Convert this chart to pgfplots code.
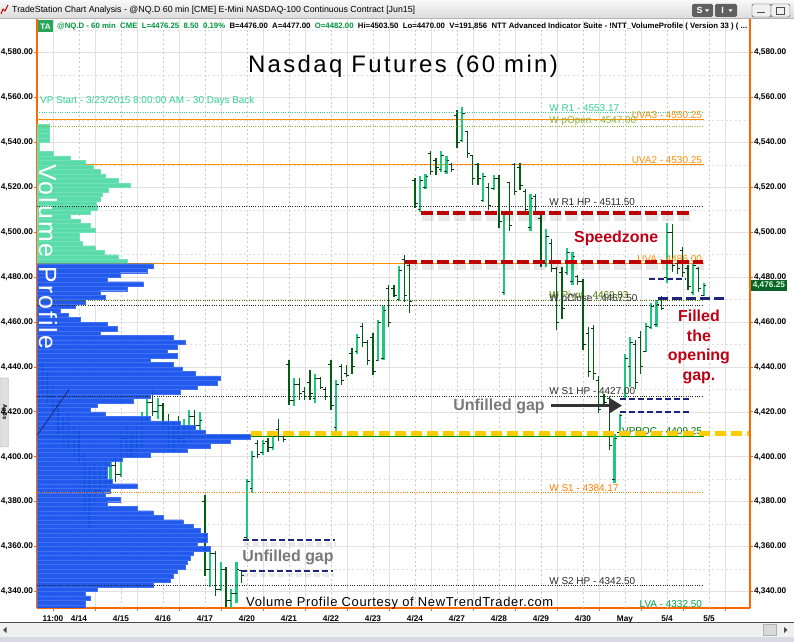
\documentclass[border=0pt]{standalone}
\usepackage{fontspec}
\setmainfont{Liberation Sans}
\newfontfamily\titlefont[LetterSpace=10]{Liberation Sans}
\newfontfamily\vpfont[LetterSpace=8]{Liberation Sans}
\newfontfamily\footfont[LetterSpace=5]{Liberation Sans}
\usepackage{pgfplots}
\usepackage{pgfplotstable}
\pgfplotsset{compat=1.18}
\usetikzlibrary{arrows.meta}

\definecolor{mint}{RGB}{32,200,125}
\definecolor{dkgreen}{RGB}{0,95,20}
\definecolor{tickc}{RGB}{25,45,25}
\definecolor{vpblue}{RGB}{18,78,236}
\definecolor{vpcyan}{RGB}{80,218,165}
\definecolor{frameor}{RGB}{255,102,0}
\definecolor{lvlor}{RGB}{255,140,0}
\definecolor{szred}{RGB}{190,0,0}
\definecolor{navy}{RGB}{30,35,125}
\definecolor{gold}{RGB}{255,204,0}
\definecolor{olive}{RGB}{140,180,50}
\definecolor{pivgreen}{RGB}{70,120,0}
\definecolor{r1mint}{RGB}{50,210,150}
\definecolor{lvagreen}{RGB}{0,160,70}
\definecolor{gridc}{RGB}{226,226,226}
\definecolor{boxgreen}{RGB}{10,100,40}
\definecolor{stgreen}{RGB}{0,150,60}
\definecolor{txtred}{RGB}{190,0,20}
\definecolor{labdark}{RGB}{45,45,45}

% 60-min bars: x = trading-day index (4/14 = 1, 4/20 = 5, ...), open high low close
\pgfplotstableread{
x o h l c
0.125 4440 4442 4428 4430
0.250 4430 4438 4424 4427
0.375 4427 4432 4420 4423
0.500 4423 4425 4410 4412
0.625 4412 4418 4405 4415
0.750 4415 4420 4403 4406
0.875 4406 4414 4400 4410
1.000 4410 4412 4398 4400
1.125 4400 4402 4375 4380
1.250 4380 4395 4368 4390
1.375 4390 4398 4380 4385
1.500 4385 4396 4384 4394
1.625 4394 4398 4386 4389
1.750 4389 4398 4388 4396
1.875 4396 4400 4389 4392
2.000 4392 4412 4391 4408
2.125 4408 4414 4400 4403
2.250 4403 4412 4400 4410
2.375 4410 4413 4402 4405
2.500 4405 4420 4404 4418
2.625 4418 4428 4415 4424
2.750 4424 4430 4418 4420
2.875 4420 4426 4417 4423
3.000 4423 4424 4413 4415
3.125 4415 4419 4403 4406
3.250 4406 4416 4402 4412
3.375 4412 4418 4406 4408
3.500 4408 4417 4405 4414
3.625 4414 4421 4410 4418
3.750 4418 4421 4412 4414
3.875 4414 4420 4410 4416
4.000 4380 4383 4347 4350
4.125 4350 4359 4342 4357
4.250 4357 4358 4338 4341
4.375 4341 4353 4340 4350
4.500 4350 4351 4333 4336
4.625 4336 4341 4332 4339
4.750 4339 4353 4335 4350
4.875 4349.5 4349.5 4344 4347
5.000 4364 4390 4363.5 4389
5.125 4386 4402.5 4384 4400
5.250 4406 4407.5 4399.5 4401
5.375 4402 4407.5 4401 4406
5.500 4407 4408.5 4402 4404
5.625 4404 4410 4403 4409
5.750 4412 4417 4407 4409
5.875 4409 4410 4406.5 4407.5
6.000 4441 4443 4423 4425
6.125 4425 4435 4422.5 4432
6.250 4432 4435 4425.5 4428
6.375 4429 4431 4425.5 4427
6.500 4433 4438.5 4425.5 4428
6.625 4426 4437 4424 4435
6.750 4435 4435.5 4430 4431
6.875 4430 4431 4425.5 4427
7.000 4441 4443 4421 4423
7.125 4413 4434 4410.5 4432
7.250 4440 4441.5 4432 4434
7.375 4437 4441 4435.5 4436
7.500 4446 4448.5 4437 4440
7.625 4447 4454.5 4446 4453
7.750 4458 4459.5 4449 4451
7.875 4451 4452 4441 4443
8.000 4453 4455 4436.5 4438
8.125 4443 4461 4442.5 4460
8.250 4444 4467 4443 4465
8.375 4475 4476.5 4458 4460
8.500 4475 4476.5 4471 4472
8.625 4470 4485 4469.5 4483
8.750 4488 4490 4469 4472
8.875 4485 4486 4464 4469
9.000 4523 4524 4511 4513
9.125 4510 4525 4509 4523
9.250 4520 4526 4519.5 4525
9.375 4535 4536 4525.5 4527
9.500 4532 4533 4525.5 4529
9.625 4528 4536 4527 4534
9.750 4527 4534 4526 4532
9.875 4530 4531 4527 4528
10.000 4552 4554.5 4537.5 4540
10.125 4541 4556 4540 4553
10.250 4545 4545 4533 4535
10.375 4534 4534.5 4521 4524
10.500 4530 4531 4521 4524
10.625 4514 4526.5 4513.5 4525
10.750 4520 4522 4510 4512
10.875 4519.5 4525.5 4519 4524
11.000 4524 4525.5 4502 4505
11.125 4473 4509 4472 4508
11.250 4522 4522.5 4500.5 4503
11.375 4530 4531 4516.5 4518
11.500 4529 4531 4519 4521
11.625 4518 4519.5 4508.5 4510
11.750 4502 4517 4500.5 4515
11.875 4516 4517 4507.5 4509
12.000 4506 4508.5 4484.5 4487
12.125 4486 4501.5 4484.5 4498
12.250 4495 4497 4482.5 4484
12.375 4484 4484.5 4456.5 4460
12.500 4482 4484.5 4461.5 4466
12.625 4482 4493 4481 4491
12.750 4478 4491 4476.5 4489
12.875 4480.5 4481 4476.5 4478
13.000 4478 4479 4447.5 4450
13.125 4455 4458 4435.5 4438
13.250 4457 4458.5 4434 4437
13.375 4434 4436 4419.5 4421
13.500 4427 4428 4422.5 4424
13.625 4426 4427 4403 4405
13.750 4390 4410 4388.5 4408
13.875 4411 4419 4409 4418.5
14.000 4426 4446 4425.5 4444
14.125 4440 4453.5 4431 4451
14.250 4450 4452 4430 4433
14.375 4453 4456 4437 4440
14.500 4447 4459.5 4446.5 4458
14.625 4457.5 4468.5 4457 4467
14.750 4459 4470 4458 4468
14.875 4471 4471.5 4465.5 4466
15.000 4480 4504 4477.5 4500
15.125 4500 4503.5 4482.5 4485
15.250 4486 4487.5 4481.5 4484
15.375 4492 4493.5 4480 4482
15.500 4484 4485.5 4474.5 4476
15.625 4473 4486 4472 4485
15.750 4484 4484.5 4473.5 4475
15.875 4472 4477.5 4471.5 4476.25
}\bars

% volume profile: price level (2-pt bins) and bar length (px of 42 per day)
\pgfplotstableread{
p len
4547 12
4545 12
4543 12
4541 12
4539 2
4537 2
4535 16
4533 33
4531 48
4529 56
4527 63
4525 68
4523 81
4521 93
4519 71
4517 65
4515 63
4513 59
4511 60
4509 53
4507 33
4505 43
4503 53
4501 58
4499 42
4497 42
4495 45
4493 58
4491 67
4489 81
4487 90
}\profhi

\pgfplotstableread{
p len
4485 116
4483 110
4481 83
4479 70
4477 106
4475 90
4473 63
4471 68
4469 48
4467 38
4465 23
4463 31
4461 43
4459 70
4457 80
4455 63
4453 136
4451 148
4449 140
4447 130
4445 140
4443 113
4441 136
4439 145
4437 158
4435 183
4433 180
4431 160
4429 143
4427 113
4425 96
4423 60
4421 53
4419 68
4417 113
4415 143
4413 158
4411 168
4409 213
4407 193
4405 173
4403 150
4401 113
4399 85
4397 73
4395 70
4393 70
4391 70
4389 75
4387 100
4385 73
4383 68
4381 83
4379 70
4377 100
4375 116
4373 126
4371 146
4369 156
4367 163
4365 170
4363 170
4361 160
4359 173
4357 156
4355 153
4353 150
4351 148
4349 140
4347 136
4345 133
4343 116
4341 60
4339 48
4337 53
4335 48
4333 48
}\proflo

\pgfplotsset{
  vpline/.style={line width=1bp, forget plot},
  dotl/.style={line width=1bp, dash pattern=on 1bp off 1.3bp, forget plot},
}
\tikzset{lab/.style={font=\fontsize{10}{12}\selectfont, inner sep=1bp}}

\begin{document}
\begin{tikzpicture}
\fill[white] (0,0) rectangle (794bp,642bp);

% window chrome (title bar, bottom scroll bar)
\begin{scope}[x=1bp,y=-1bp,yshift=642bp]
  \shade[top color=gray!5, bottom color=gray!28] (0,0) rectangle (794,18.5);
  \draw[gray!60] (0,18.5) -- (794,18.5);
  \draw[red!80!black, line width=1bp] (1,14) -- (3,9) -- (5,11) -- (8,5);
  \node[anchor=west, inner sep=0] at (12,10)
    {\resizebox{403bp}{!}{\fontsize{9}{10}\selectfont TradeStation Chart Analysis - @NQ.D 60 min [CME] E-Mini NASDAQ-100 Continuous Contract [Jun15]}};
  \fill[rounded corners=1.5bp, gray!75!black] (692,4) rectangle (713,17);
  \node[text=white, font=\bfseries\fontsize{9}{10}\selectfont] at (699.5,10.8) {S};
  \fill[white] (705,9.5) -- (709,9.5) -- (707,12) -- cycle;
  \fill[rounded corners=1.5bp, gray!75!black] (715,4) rectangle (737,17);
  \node[text=white, font=\bfseries\fontsize{9}{10}\selectfont] at (722.5,10.8) {I};
  \fill[white] (728.5,9.5) -- (732.5,9.5) -- (730.5,12) -- cycle;
  \draw[rounded corners=1.5bp, fill=gray!12, draw=gray!55!black] (752,4) rectangle (771,17);
  \draw[line width=1.2bp, black!70] (757,12.5) -- (765,12.5);
  \draw[rounded corners=1.5bp, fill=gray!12, draw=gray!55!black] (771,4) rectangle (790,17);
  \draw[line width=0.8bp, black!70] (776.5,7.5) rectangle (784.5,14);
  % bottom
  \draw[black!70, line width=0.8bp] (0,622.5) -- (794,622.5);
  \fill[gray!12] (0,623) rectangle (794,637);
  \fill[black!70] (3,630) -- (6.5,627) -- (6.5,633) -- cycle;
  \draw[fill=gray!30, draw=gray!60] (763,624.5) rectangle (776,635.5);
  \fill[black!70] (784,627) -- (787.5,630) -- (784,633) -- cycle;
  \fill[blue!20!gray!25] (0,637) rectangle (794,642);
  % left tab
  \draw[fill=gray!25, draw=gray!60, rounded corners=1bp] (0,378) rectangle (8.5,447);
  \node[rotate=-90, font=\bfseries\fontsize{6}{7}\selectfont] at (4.2,412) {Apps};
\end{scope}

\begin{axis}[
  at={(37bp,34bp)}, anchor=south west,
  width=713bp, height=589bp, scale only axis,
  xmin=0, xmax=16.976, ymin=4332.65, ymax=4595,
  axis x line*=bottom, axis y line*=left,
  axis line style={frameor, line width=1.2bp},
  clip mode=individual,
  /pgf/number format/assume math mode=true,
  xtick={0.38,1.38,2.38,3.38,4.38,5.38,6.38,7.38,8.38,9.38,10.38,11.38,12.38,13.38,14.38,15.38,16.38},
  xticklabels={11:00,,,,,,,,,,,,,,,,},
  extra x ticks={1,2,3,4,5,6,7,8,9,10,11,12,13,14,15,16},
  extra x tick labels={4/14,4/15,4/16,4/17,4/20,4/21,4/22,4/23,4/24,4/27,4/28,4/29,4/30,May,5/4,5/5},
  extra x tick style={major tick style={draw=none}, grid=major,
     major grid style={gray!40, dash pattern=on 2bp off 2.5bp, line width=0.6bp}},
  xmajorgrids, ymajorgrids, yminorgrids,
  major grid style={gridc, line width=0.7bp},
  minor grid style={gray!25, dash pattern=on 2bp off 2.5bp, line width=0.6bp},
  ytick={4340,4360,4380,4400,4420,4440,4460,4480,4500,4520,4540,4560,4580},
  minor ytick={4350,4370,4390,4410,4430,4450,4470,4490,4510,4530,4550,4570,4590},
  tick align=outside, major tick length=3bp, minor tick length=0pt,
  tick style={frameor, line width=0.8bp},
  tick label style={font=\bfseries\fontsize{8.3}{10}\selectfont, text=black},
  yticklabel style={/pgf/number format/.cd, fixed, fixed zerofill, precision=2, 1000 sep={,}, /tikz/.cd, inner sep=0.8bp},
  xticklabel style={yshift=-1bp},
]
% value-area lines (drawn under the profile)
\addplot[vpline, lvlor] coordinates {(0,4550.25) (15.88,4550.25)};
\addplot[vpline, lvlor] coordinates {(0,4530.25) (15.88,4530.25)};
\addplot[vpline, lvlor] coordinates {(0,4486) (15.88,4486)};
\addplot[vpline, green!55!black] coordinates {(0,4409.25) (15.88,4409.25)};
\addplot[vpline, lvagreen] coordinates {(0,4332.5) (15.88,4332.5)};

% price bars: up bars mint thick, down bars dark thin
\addplot[draw=none, mark=none, forget plot,
  restrict expr to domain={\thisrow{c}-\thisrow{o}}{0:1000},
  error bars/.cd, y dir=both, y explicit, error mark=none,
  error bar style={draw=mint, solid, line width=2.1bp}]
  table[x=x, y expr={(\thisrow{h}+\thisrow{l})/2}, y error expr={(\thisrow{h}-\thisrow{l})/2}] {\bars};
\addplot[draw=none, mark=none, forget plot,
  restrict expr to domain={\thisrow{c}-\thisrow{o}}{-1000:0},
  error bars/.cd, y dir=both, y explicit, error mark=none,
  error bar style={draw=dkgreen, solid, line width=1.2bp}]
  table[x=x, y expr={(\thisrow{h}+\thisrow{l})/2}, y error expr={(\thisrow{h}-\thisrow{l})/2}] {\bars};
\addplot[draw=none, mark=none, forget plot,
  error bars/.cd, x dir=minus, x fixed=0.065, error mark=none,
  error bar style={draw=tickc, solid, line width=1bp}]
  table[x=x, y=o] {\bars};
\addplot[draw=none, mark=none, forget plot,
  error bars/.cd, x dir=plus, x fixed=0.065, error mark=none,
  error bar style={draw=tickc, solid, line width=1bp}]
  table[x=x, y=c] {\bars};

% volume profile (2-point bins = 4.49 px tall)
\addplot[xbar, bar width=4.49bp, bar shift=0pt, fill=vpcyan, fill opacity=0.94,
  draw=vpcyan!80!white, line width=0.3bp, forget plot]
  table[x expr={\thisrow{len}/42}, y=p] {\profhi};
\addplot[xbar, bar width=4.49bp, bar shift=0pt, fill=vpblue, fill opacity=0.93,
  draw=vpblue!80!white, line width=0.3bp, forget plot]
  table[x expr={\thisrow{len}/42}, y=p] {\proflo};
\addplot[navy, line width=0.8bp, forget plot] coordinates {(0.007,4409.7) (0.769,4430.1)};

% pivot lines (dotted, over the profile)
\addplot[dotl, r1mint] coordinates {(0,4553.17) (15.88,4553.17)};
\addplot[dotl, olive] coordinates {(0,4547.0) (15.88,4547.0)};
\addplot[dotl, black!85] coordinates {(0,4511.5) (15.88,4511.5)};
\addplot[dotl, pivgreen] coordinates {(0,4469.83) (15.88,4469.83)};
\addplot[dotl, black!85] coordinates {(0,4467.5) (15.88,4467.5)};
\addplot[dotl, black!85] coordinates {(0,4427.0) (15.88,4427.0)};
\addplot[dotl, lvlor!90!red] coordinates {(0,4384.17) (15.88,4384.17)};
\addplot[dotl, black!85] coordinates {(0,4342.5) (15.88,4342.5)};

% level labels
\node[lab, anchor=south west, text=r1mint] at (axis cs:12.17,4553.17) {W R1 - 4553.17};
\node[lab, anchor=south east, text=lvlor] at (axis cs:15.86,4550.25) {UVA3 - 4550.25};
\node[lab, anchor=south west, text=olive] at (axis cs:12.17,4547.0) {W pOpen - 4547.00};
\node[lab, anchor=south east, text=lvlor] at (axis cs:15.86,4530.25) {UVA2 - 4530.25};
\node[lab, anchor=south west, text=labdark] at (axis cs:12.17,4511.5) {W R1 HP - 4511.50};
\node[lab, anchor=south east, text=lvlor] at (axis cs:15.86,4486) {UVA - 4486.00};
\node[lab, anchor=south west, text=pivgreen] at (axis cs:12.17,4469.83) {W Pivot - 4469.83};
\node[lab, anchor=south west, text=labdark] at (axis cs:12.17,4467.5) {W pClose - 4467.50};
\node[lab, anchor=south west, text=labdark] at (axis cs:12.17,4427.0) {W S1 HP - 4427.00};
\node[lab, anchor=south east, text=green!45!black] at (axis cs:15.86,4409.25) {VPPOC - 4409.25};
\node[lab, anchor=south west, text=lvlor!90!red] at (axis cs:12.17,4384.17) {W S1 - 4384.17};
\node[lab, anchor=south west, text=labdark] at (axis cs:12.17,4342.5) {W S2 HP - 4342.50};
\node[lab, anchor=south east, text=lvagreen] at (axis cs:15.86,4332.5) {LVA - 4332.50};

% speedzone (red dashed) with soft shadows
\addplot[black, opacity=0.09, line width=6bp, dash pattern=on 12bp off 4bp, forget plot] coordinates {(9.17,4506.4) (15.58,4506.4)};
\addplot[black, opacity=0.09, line width=6bp, dash pattern=on 12bp off 4bp, forget plot] coordinates {(8.79,4484.6) (15.89,4484.6)};
\addplot[szred, line width=4.3bp, dash pattern=on 12bp off 4bp, forget plot] coordinates {(9.14,4508.7) (15.55,4508.7)};
\addplot[szred, line width=4.3bp, dash pattern=on 12bp off 4bp, forget plot] coordinates {(8.76,4486.9) (15.86,4486.9)};

% gap lines (navy dashed) with shadows
\addplot[black, opacity=0.08, line width=4bp, dash pattern=on 6bp off 3bp, forget plot] coordinates {(4.92,4361.2) (7.12,4361.2)};
\addplot[black, opacity=0.08, line width=4bp, dash pattern=on 6bp off 3bp, forget plot] coordinates {(4.88,4347.4) (7.07,4347.4)};
\addplot[navy, line width=2bp, dash pattern=on 6bp off 3bp, forget plot] coordinates {(4.90,4362.9) (7.10,4362.9)};
\addplot[navy, line width=2bp, dash pattern=on 6bp off 3bp, forget plot] coordinates {(4.86,4349.1) (7.05,4349.1)};
\addplot[navy, line width=2bp, dash pattern=on 6bp off 3bp, forget plot] coordinates {(13.88,4425.7) (15.55,4425.7)};
\addplot[navy, line width=2bp, dash pattern=on 6bp off 3bp, forget plot] coordinates {(13.88,4420.1) (15.55,4420.1)};
\addplot[navy, line width=2bp, dash pattern=on 6bp off 3bp, forget plot] coordinates {(14.57,4479.1) (15.45,4479.1)};
\addplot[navy, line width=3.5bp, dash pattern=on 10bp off 4bp, forget plot] coordinates {(14.79,4470.6) (16.45,4470.6)};

% VPPOC highlight
\addplot[gold, line width=4.5bp, dash pattern=on 11bp off 5bp, forget plot] coordinates {(5.10,4410.3) (16.976,4410.3)};

% arrow
\addplot[black!80, line width=3.5bp, -{Triangle[length=13bp,width=15bp]}, forget plot] coordinates {(12.24,4422.8) (13.93,4422.8)};

% texts
\node[anchor=base, font=\titlefont\fontsize{24}{28}\selectfont] at (axis cs:8.714,4571.0) {Nasdaq Futures (60 min)};
\node[anchor=west, inner sep=0, text=r1mint, font=\fontsize{10}{12}\selectfont] at (axis cs:0.07,4558.5) {VP Start - 3/23/2015 8:00:00 AM - 30 Days Back};
\node[rotate=-90, text=white, font=\vpfont\fontsize{25}{30}\selectfont] at (axis cs:0.262,4489) {Volume Profile};
\node[anchor=base west, inner sep=0, font=\footfont\fontsize{13}{15}\selectfont] at (axis cs:4.976,4333.5) {Volume Profile Courtesy of NewTrendTrader.com};

\node[text=txtred, font=\bfseries\fontsize{16}{19}\selectfont] at (axis cs:13.79,4497.4) {Speedzone};
\node[text=txtred, align=center, font=\bfseries\fontsize{16}{19.5}\selectfont] at (axis cs:15.76,4448.9) {Filled\\the\\opening\\gap.};
\node[text=gray!95!black, font=\bfseries\fontsize{16}{19}\selectfont] at (axis cs:11.0,4422.6) {Unfilled gap};
\node[text=gray!95!black, font=\bfseries\fontsize{16}{19}\selectfont] at (axis cs:5.976,4355.3) {Unfilled gap};
\end{axis}

% right price scale
\begin{axis}[
  at={(37bp,34bp)}, anchor=south west,
  width=713bp, height=589bp, scale only axis,
  xmin=0, xmax=16.976, ymin=4332.65, ymax=4595,
  hide x axis, axis y line*=right,
  axis line style={frameor, line width=1.2bp},
  /pgf/number format/assume math mode=true,
  ytick={4340,4360,4380,4400,4420,4440,4460,4480,4500,4520,4540,4560,4580},
  tick align=outside, major tick length=3bp,
  tick style={frameor, line width=0.8bp},
  tick label style={font=\bfseries\fontsize{8.3}{10}\selectfont, text=black},
  yticklabel style={/pgf/number format/.cd, fixed, fixed zerofill, precision=2, 1000 sep={,}, /tikz/.cd, inner sep=0.8bp},
  clip=false,
]
\node[fill=boxgreen, text=white!85!green, font=\bfseries\fontsize{8.3}{10}\selectfont, anchor=west, inner sep=1.6bp, xshift=1bp] at (axis cs:16.976,4476.25) {4,476.25};
\end{axis}

% status line
\begin{scope}[x=1bp,y=-1bp,yshift=642bp]
  \fill[stgreen!85!white] (38,20.5) rectangle (53,32.5);
  \node[text=white, font=\bfseries\fontsize{8}{9}\selectfont] at (45.5,26.5) {TA};
  \node[anchor=west, inner sep=0] at (57,26.8)
    {\resizebox{690bp}{!}{\bfseries\fontsize{8}{9}\selectfont\textcolor{stgreen}{@NQ.D - 60 min\ \ CME\ \ L=4476.25\ \ 8.50\ \ 0.19\%}\ \ B=4476.00\ \ A=4477.00\ \ \textcolor{stgreen}{O=4482.00}\ \ Hi=4503.50\ \ Lo=4470.00\ \ V=191,856\ \ NTT Advanced Indicator Suite - !NTT\_VolumeProfile ( Version 33 ) ( ...}};
\end{scope}
\pgfresetboundingbox
\path[use as bounding box] (0,0) rectangle (794bp,642bp);
\end{tikzpicture}
\end{document}
